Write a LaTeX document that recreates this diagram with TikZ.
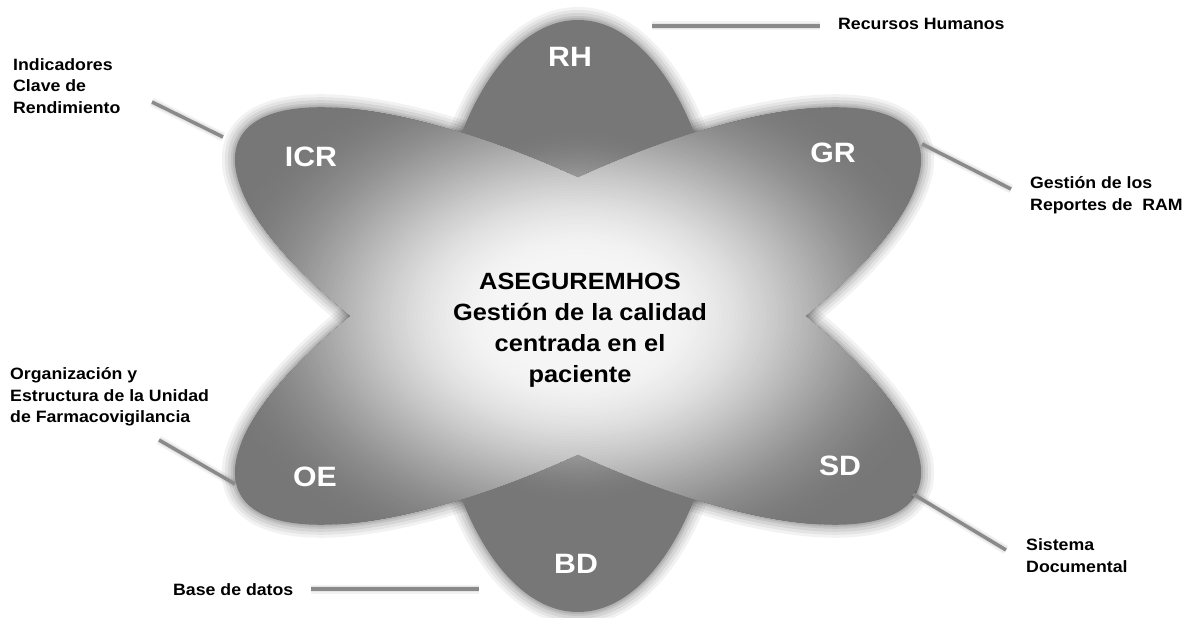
\documentclass[tikz,border=0pt]{standalone}
\usepackage{fontspec}
\setmainfont{Liberation Sans}[FakeStretch=1.08]
\definecolor{pdark}{HTML}{777777}
\definecolor{lineg}{HTML}{8A8A8A}
\tikzset{
  petalV/.style={},
  petalA/.style={rotate around={-27.7:(C)}},
  petalB/.style={rotate around={27.7:(C)}},
  lbl/.style={font=\bfseries\fontsize{16.4}{21.5}\selectfont, inner sep=0pt, align=left, anchor=base west, text=black},
  ctext/.style={font=\bfseries\fontsize{23.5}{30.7}\selectfont, inner sep=0pt, align=center, anchor=base, text=black},
  plbl/.style={font=\bfseries\fontsize{28}{28}\selectfont, inner sep=0pt, text=white},
  conn/.style={line width=3.5pt, lineg},
  connhalo/.style={line width=9pt, black, opacity=0.05},
}
\newcommand\petalgrad[2]{%
  \fill[pdark] (0,0) rectangle (1191,618);
  \foreach \i in {96,...,1}{
    \pgfmathsetmacro{\t}{\i*0.01}
    \pgfmathsetmacro{\xx}{min(max((\t-0.2)/0.75,0),1)}
    \pgfmathsetmacro{\g}{46.7+49.3*(1-(3*\xx*\xx-2*\xx*\xx*\xx))}
    \pgfmathsetmacro{\ex}{\t*#1}
    \pgfmathsetmacro{\ey}{\t*#2}
    \fill[white!\g!black] (C) ellipse [x radius=\ex pt, y radius=\ey pt];
  }%
}
\begin{document}
\begin{tikzpicture}[x=1pt, y=-1pt]
\useasboundingbox (0,0) rectangle (1191,618);
\coordinate (C) at (578,316);
% soft shadows
\foreach \p/\rx/\ry in {V/148/296, B/382/124, A/382/124}{
  \foreach \w/\o in {26/0.05, 20/0.06, 14/0.07, 8/0.08, 4/0.09}{
    \draw[shift={(1.5,2.5)}, petal\p, line width=\w pt, black, opacity=\o] (C) ellipse [x radius=\rx pt, y radius=\ry pt];
  }
}
% vertical petal (RH - BD)
\begin{scope}
  \clip (C) ellipse [x radius=148pt, y radius=296pt];
  \petalgrad{200}{200}
\end{scope}
% tilted petals (ICR - SD and GR - OE)
\begin{scope}
  \clip {[petalA] (C) ellipse [x radius=382pt, y radius=124pt]}
        {[petalB] (C) ellipse [x radius=382pt, y radius=124pt]};
  \petalgrad{400}{280}
\end{scope}
% petal labels
\node[plbl] (rh) at (570,57) {RH};
\node[plbl] (icr) at (311,157) {ICR};
\node[plbl] (gr) at (833,153) {GR};
\node[plbl] (oe) at (315,477) {OE};
\node[plbl] (bd) at (576,564) {BD};
\node[plbl] (sd) at (840,466) {SD};
% center text
\node[ctext] (center) at (580,382) {ASEGUREMHOS\\Gestión de la calidad\\centrada en el\\paciente};
% side labels
\node[lbl] (trh) at (838,30) {Recursos Humanos};
\node[lbl] (ticr) at (13,113) {Indicadores\\Clave de\\Rendimiento};
\node[lbl] (tgr) at (1030,210) {Gestión de los\\Reportes de\ \ RAM};
\node[lbl] (toe) at (10,422.5) {Organización y\\Estructura de la Unidad\\de Farmacovigilancia};
\node[lbl] (tbd) at (173,595) {Base de datos};
\node[lbl] (tsd) at (1026,572) {Sistema\\Documental};
% connectors
\coordinate (rhA) at (652,26);  \coordinate (rhB) at (820,26);
\coordinate (icrA) at (152,102); \coordinate (icrB) at (223,137);
\coordinate (grA) at (922,144); \coordinate (grB) at (1011,189);
\coordinate (oeA) at (159,440); \coordinate (oeB) at (235,484);
\coordinate (bdA) at (311,589); \coordinate (bdB) at (479,589);
\coordinate (sdA) at (913,494); \coordinate (sdB) at (1006,550);
\foreach \a in {rh,icr,gr,oe,bd,sd}{
  \draw[connhalo, shift={(1,2)}] (\a A) -- (\a B);
  \draw[connhalo, line width=6pt, shift={(1,2)}] (\a A) -- (\a B);
  \draw[conn] (\a A) -- (\a B);
}
\end{tikzpicture}
\end{document}
